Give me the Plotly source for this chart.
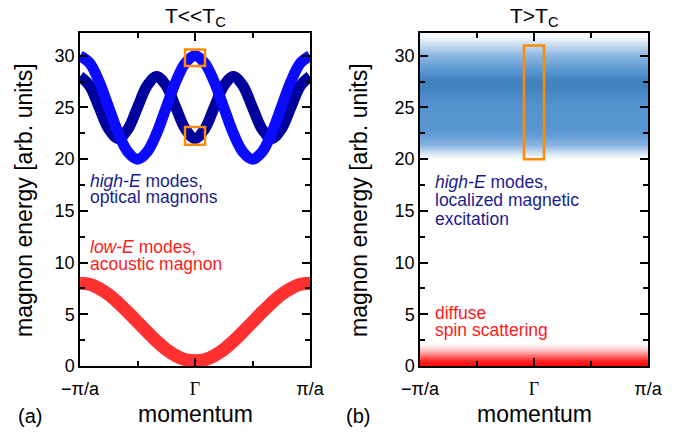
import plotly.graph_objects as go

# momentum in units of pi/a
k = [-1 + i / 12 for i in range(25)]
# light blue optical branch
E_opt1 = [30, 29.3, 27.5, 25, 22.5, 20.7, 20, 20.7, 22.5, 25, 27.5, 29.3, 30,
          29.3, 27.5, 25, 22.5, 20.7, 20, 20.7, 22.5, 25, 27.5, 29.3, 30]
# dark blue optical branch
E_opt2 = [28, 27.1, 25, 22.9, 22, 22.9, 25, 27.1, 28, 27.1, 25, 22.9, 22,
          22.9, 25, 27.1, 28, 27.1, 25, 22.9, 22, 22.9, 25, 27.1, 28]
# acoustic branch
E_ac = [8.0, 7.9, 7.5, 6.9, 6.1, 5.2, 4.25, 3.3, 2.4, 1.6, 1.0, 0.6, 0.5,
        0.6, 1.0, 1.6, 2.4, 3.3, 4.25, 5.2, 6.1, 6.9, 7.5, 7.9, 8.0]

# T > Tc intensity profiles
band_k = [-1.0, 1.0]
blue_E = [19.0, 20.0, 20.5, 21.0, 21.5, 22.0, 22.5, 23.0, 24.0, 25.0, 26.0, 27.0,
          27.5, 28.0, 28.5, 29.0, 29.5, 30.0, 30.5, 31.0, 31.5, 32.0, 33.0]
blue_I = [0, 0, 0.15, 0.35, 0.55, 0.7, 0.8, 0.85, 0.86, 0.87, 0.93, 1.0,
          1.0, 0.95, 0.85, 0.75, 0.62, 0.52, 0.4, 0.25, 0.12, 0.03, 0]
red_E = [-1.0, 0.0, 0.5, 1.0, 1.5, 2.0, 2.3, 3.0]
red_I = [1.0, 1.0, 0.85, 0.55, 0.25, 0.06, 0.0, 0.0]

# orange highlight boxes (k, E)
box_a = [(-0.087, 0.087, 29.0, 30.6), (-0.087, 0.087, 21.4, 23.1)]
box_b = [(-0.088, 0.088, 20.0, 31.0)]

tick_vals = [-1, 0, 1]
tick_text = ["\u2212\u03c0/a", "<span style='font-family:Liberation Serif'>\u0393</span>", "\u03c0/a"]

W, H = 684, 435
fig = go.Figure()

fig.add_trace(go.Scatter(x=k, y=E_opt2, mode="lines", line=dict(color="#00009c", width=11, shape="spline"),
                         xaxis="x", yaxis="y", hoverinfo="skip"))
fig.add_trace(go.Scatter(x=k, y=E_opt1, mode="lines", line=dict(color="#0a0aff", width=11, shape="spline"),
                         xaxis="x", yaxis="y", hoverinfo="skip"))
fig.add_trace(go.Scatter(x=k, y=E_ac, mode="lines", line=dict(color="#ff3030", width=13, shape="spline"),
                         xaxis="x", yaxis="y", hoverinfo="skip"))

fig.add_trace(go.Heatmap(x=band_k, y=blue_E, z=[[v, v] for v in blue_I], zsmooth="best",
                         colorscale=[[0, "rgb(255,255,255)"], [0.5, "rgb(140,182,225)"],
                                     [0.85, "rgb(88,150,210)"], [1, "rgb(66,130,190)"]],
                         zmin=0, zmax=1, showscale=False, xaxis="x2", yaxis="y2", hoverinfo="skip"))
fig.add_trace(go.Heatmap(x=band_k, y=red_E, z=[[v, v] for v in red_I], zsmooth="best",
                         colorscale=[[0, "rgb(255,255,255)"], [1, "rgb(255,0,0)"]],
                         zmin=0, zmax=1, showscale=False, xaxis="x2", yaxis="y2", hoverinfo="skip"))

for (x0, x1, y0, y1) in box_a:
    fig.add_shape(type="rect", x0=x0, x1=x1, y0=y0, y1=y1, xref="x", yref="y",
                  line=dict(color="#ff8c00", width=2.5))
for (x0, x1, y0, y1) in box_b:
    fig.add_shape(type="rect", x0=x0, x1=x1, y0=y0, y1=y1, xref="x2", yref="y2",
                  line=dict(color="#ff8c00", width=2.5))

xax = dict(range=[-1, 1], tickmode="array", tickvals=tick_vals, ticktext=tick_text,
           ticks="inside", ticklen=8, tickwidth=1.5, tickcolor="black", ticklabelstandoff=6,
           minor=dict(tickmode="array", tickvals=[-0.5, 0.5], ticks="inside", ticklen=5, tickwidth=1.5, tickcolor="black"),
           showline=True, linecolor="black", linewidth=1.5, mirror="allticks", automargin=False,
           showgrid=False, zeroline=False, tickfont=dict(size=18, color="black"), fixedrange=True)
yax = dict(range=[0, 32.2], tickmode="linear", tick0=0, dtick=5,
           ticks="inside", ticklen=8, tickwidth=1.5, tickcolor="black",
           minor=dict(dtick=2.5, ticks="inside", ticklen=5, tickwidth=1.5, tickcolor="black", showgrid=False),
           showline=True, linecolor="black", linewidth=1.5, mirror="allticks", automargin=False,
           showgrid=False, zeroline=False, tickfont=dict(size=18, color="black"), fixedrange=True)

ydom = [69 / H, 402 / H]
fig.update_layout(
    width=W, height=H, margin=dict(l=0, r=0, t=0, b=0, autoexpand=False),
    paper_bgcolor="white", plot_bgcolor="rgba(0,0,0,0)", showlegend=False,
    font=dict(family="Liberation Sans, Arial, sans-serif", color="black"),
    xaxis=dict(xax, domain=[80 / W, 310 / W], anchor="y"),
    yaxis=dict(yax, domain=ydom, anchor="x"),
    xaxis2=dict(xax, domain=[420 / W, 648 / W], anchor="y2"),
    yaxis2=dict(yax, domain=ydom, anchor="x2"),
)

def ann(text, xpx, ypx, size=17.5, color="black", xanchor="left", angle=0):
    fig.add_annotation(text=text, x=xpx / W, y=1 - ypx / H, xref="paper", yref="paper",
                       xanchor=xanchor, yanchor="middle", showarrow=False, textangle=angle,
                       font=dict(size=size, color=color))

navy = "#1c1c8e"
red = "#ff1a1a"
ann("<i>high-E</i> modes,", 88, 181, color=navy)
ann("optical magnons", 88, 197, color=navy)
ann("<i>low-E</i> modes,", 88, 247, color=red)
ann("acoustic magnon", 88, 264, color=red)

ann("<i>high-E</i> modes,", 433, 182, color=navy)
ann("localized magnetic", 433, 200, color=navy)
ann("excitation", 433, 219, color=navy)
ann("diffuse", 433, 313, color=red)
ann("spin scattering", 433, 330, color=red)

ann("T&lt;&lt;T<sub>C</sub>", 195, 17, size=21, xanchor="center")
ann("T&gt;T<sub>C</sub>", 534, 17, size=21, xanchor="center")
ann("momentum", 195, 414, size=23, xanchor="center")
ann("momentum", 534, 414, size=23, xanchor="center")
ann("(a)", 30, 416, size=20, xanchor="center")
ann("(b)", 358, 416, size=20, xanchor="center")
ann("magnon energy [arb. units]", 24, 200, size=23, xanchor="center", angle=-90)
ann("magnon energy [arb. units]", 359, 200, size=23, xanchor="center", angle=-90)

fig.write_html("out.html", config={"displayModeBar": False},
               post_script="document.body.style.margin='0px';document.body.style.padding='0px';")
